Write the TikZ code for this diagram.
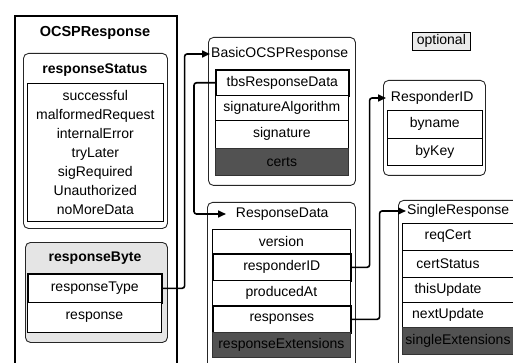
\documentclass[tikz,border=0pt]{standalone}
\usepackage{fontspec}
\setmainfont{Liberation Sans}
\usetikzlibrary{arrows.meta}
\newcommand\itemfont{\fontsize{14}{19}\selectfont}
\newcommand\headfont{\fontsize{14}{17}\selectfont}
\begin{document}
\begin{tikzpicture}[x=1pt,y=-1pt,
  frame/.style={draw=black!85, line width=0.9pt, rounded corners=5pt, anchor=north west, inner sep=0pt},
  cell/.style={draw=black, line width=0.7pt, fill=white, anchor=north west, inner sep=0pt, font=\itemfont},
  hot/.style={cell, line width=1.6pt},
  optcell/.style={cell, fill=black!68, draw=black!80},
  title/.style={font=\headfont, inner sep=1pt},
  boldtitle/.style={font=\headfont\bfseries, inner sep=1pt},
  conn/.style={line width=1.6pt, rounded corners=2.5pt, -{Triangle[length=8pt,width=7pt]}}
]
\useasboundingbox (0,0) rectangle (513,363);
\clip (0,0) rectangle (513,363);

% ---------- OCSPResponse ----------
\node[draw, line width=1.6pt, anchor=north west, inner sep=0pt,
      minimum width=162pt, minimum height=360pt] (ocsp) at (14,15) {};
\node[font=\fontsize{14.5}{17}\selectfont\bfseries] (ocspT) at (95,33) {OCSPResponse};

% responseStatus
\node[frame, minimum width=144pt, minimum height=175pt] (statusG) at (23,53) {};
\node[boldtitle] (statusT) at (95,70) {responseStatus};
\node[cell, minimum width=136pt, minimum height=138pt] (statusBox) at (27,83) {};
\node[font=\itemfont, align=center, inner sep=0pt] (statusL) at (statusBox.center)
  {successful\\malformedRequest\\internalError\\tryLater\\sigRequired\\Unauthorized\\noMoreData};

% responseByte
\node[frame, fill=black!10, minimum width=142pt, minimum height=100pt] (byteG) at (25,242) {};
\node[boldtitle] (byteT) at (95,258) {responseByte};
\node[hot, minimum width=134pt, minimum height=29pt] (rtype) at (27,273) {responseType};
\node[cell, minimum width=134pt, minimum height=30pt] (resp) at (27,302) {response};

% ---------- BasicOCSPResponse ----------
\node[frame, minimum width=147pt, minimum height=148pt] (basicG) at (208,37) {};
\node[title, anchor=west] (basicT) at (210,54) {BasicOCSPResponse};
\node[hot, minimum width=133pt, minimum height=26pt] (tbs) at (215,69) {tbsResponseData};
\node[cell, minimum width=133pt, minimum height=25pt] (sigalg) at (215,95) {signatureAlgorithm};
\node[cell, minimum width=133pt, minimum height=28pt] (sig) at (215,120) {signature};
\node[optcell, minimum width=133pt, minimum height=27pt] (certs) at (215,148) {certs};

% ---------- ResponseData ----------
\node[frame, minimum width=148pt, minimum height=180pt] (rdG) at (207,202) {};
\node[title, anchor=west, inner sep=0pt, minimum width=112pt] (rdT) at (226,214) {ResponseData};
\node[cell, minimum width=138pt, minimum height=24pt] (ver) at (212,229) {version};
\node[hot, minimum width=138pt, minimum height=27pt] (rid) at (212,253) {responderID};
\node[cell, minimum width=138pt, minimum height=25pt] (prod) at (212,280) {producedAt};
\node[hot, minimum width=138pt, minimum height=27pt] (resps) at (212,305) {responses};
\node[optcell, minimum width=138pt, minimum height=25pt] (rext) at (212,332) {responseExtensions};

% ---------- ResponderID ----------
\node[frame, minimum width=102pt, minimum height=95pt] (ridG) at (383,80) {};
\node[title, anchor=west, inner sep=0pt, minimum width=92pt] (ridT) at (386,98) {ResponderID};
\node[cell, minimum width=95pt, minimum height=28pt] (byname) at (387,110) {byname};
\node[cell, minimum width=95pt, minimum height=27pt] (bykey) at (387,138) {byKey};

% ---------- SingleResponse (runs past the right edge) ----------
\node[frame, minimum width=140pt, minimum height=190pt] (srG) at (398,200) {};
\node[title, anchor=west] (srT) at (406,211) {SingleResponse};
\draw[line width=0.7pt, fill=white] (402,223) rectangle (530,250);
\draw[line width=0.7pt, fill=white] (402,250) rectangle (530,277);
\draw[line width=0.7pt, fill=white] (402,277) rectangle (530,302);
\draw[line width=0.7pt, fill=white] (402,302) rectangle (530,327);
\draw[line width=0.7pt, draw=black!80, fill=black!68] (402,327) rectangle (530,354);
\node[font=\itemfont] (reqc) at (448,236.5) {reqCert};
\node[font=\itemfont] (cstat) at (448,263.5) {certStatus};
\node[font=\itemfont] (thisu) at (448,289.5) {thisUpdate};
\node[font=\itemfont] (nextu) at (448,314.5) {nextUpdate};
\node[font=\itemfont] (sext) at (458,340.5) {singleExtensions};

% ---------- legend ----------
\node[draw, line width=0.7pt, fill=black!8, anchor=north west, inner sep=0pt,
      minimum width=58pt, minimum height=18pt, font=\fontsize{14}{16}\selectfont] (optL) at (412,32) {optional};

% ---------- connectors ----------
\draw[conn] (rtype.east) -- ++(22,0) |- (basicT.west);
\draw[conn] (tbs.west) -- ++(-21,0) |- (rdT.west);
\draw[conn] (rid.east) -- ++(18,0) |- (ridT.west);
\draw[conn] (resps.east) -- ++(28,0) |- (srT.west);
\end{tikzpicture}
\end{document}
